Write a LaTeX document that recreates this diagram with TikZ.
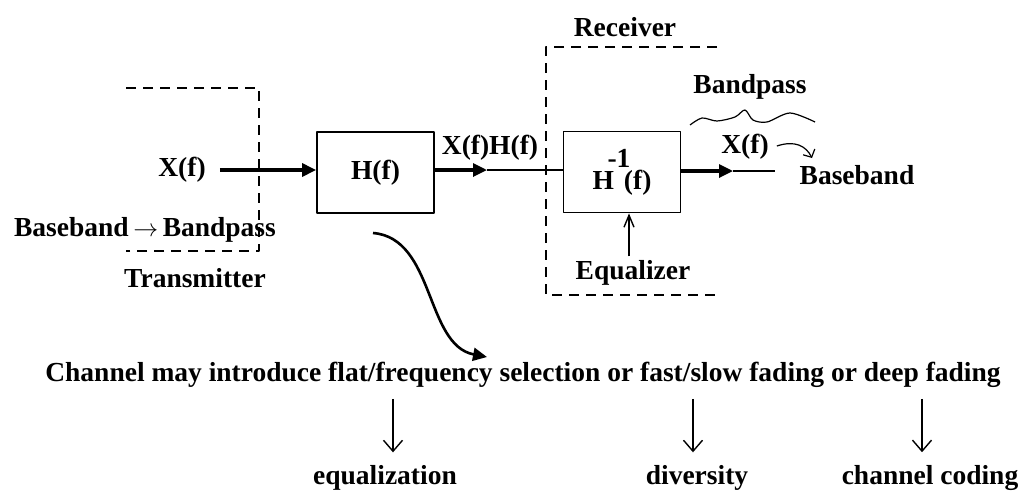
\documentclass[tikz,border=0pt]{standalone}
\usepackage{fontspec}
\setmainfont{Liberation Serif}
\usetikzlibrary{arrows.meta,calc,positioning}

\begin{document}
\begin{tikzpicture}[x=1pt,y=-1pt,line join=round,
 every node/.style={font=\fontsize{27.5}{31}\selectfont\bfseries,inner sep=0pt},
 block/.style={draw,line width=1.8pt,minimum width=117pt,minimum height=81pt},
 frame/.style={line width=1.8pt,dash pattern=on 10pt off 7pt},
 bold arrow/.style={line width=3.2pt,-{Triangle[length=14pt,width=13pt]}},
 plain line/.style={line width=1.6pt},
 down arrow/.style={line width=1.4pt,-{Straight Barb[length=11pt,width=19pt]}},
 eq arrow/.style={line width=1.4pt,-{Straight Barb[length=12pt,width=10pt]}},
 hook arrow/.style={line width=1.2pt,-{Straight Barb[length=6pt,width=13pt]}}]
 \useasboundingbox (0,0) rectangle (1035,491);
 \draw[frame] (126,88) -- (259,88) -- (259,251) -- (126,251);
 \draw[frame] (717,47) -- (546,47) -- (546,295) -- (717,295);
 \node (xin) at (182,170) {X(f)};
 \node[block] (hf) at (375.5,172.5) {H(f)};
 \node[block] (hinv) at (622,172)
  {H\makebox[10pt]{\raisebox{22pt}{-1}}(f)};
 \node (xh) at (490,148) {X(f)H(f)};
 \node (rxl) at (625,27) {Receiver};
 \node (eq) at (633,273) {Equalizer};
 \node (bbp) at (145,230) {Baseband\,$\rightarrow$\,Bandpass};
 \node (txl) at (195,278) {Transmitter};
 \node (bp) at (750,87) {Bandpass};
 \node (xout) at (745,147) {X(f)};
 \node (bb) at (857,175) {Baseband};
 \draw[bold arrow,shorten <=14pt] (xin.east) -- (xin.east -| hf.west);
 \coordinate (m1) at (487,170);
 \draw[bold arrow] (hf.east |- m1) -- (m1);
 \draw[plain line] (m1) -- (m1 -| hinv.west);
 \coordinate (m2) at (733,171);
 \coordinate (oend) at (775,171);
 \draw[bold arrow] (hinv.east |- m2) -- (m2);
 \draw[plain line] (m2) -- (oend);
 \draw[eq arrow] ($(eq.north)+(-4,-4)$) coordinate (eqt)
  -- (eqt |- hinv.south);
 \draw[line width=1.2pt] plot[smooth] coordinates
  {(690,125) (702,118) (717,121) (735,117) (745,110) (753,120) (767,122) (790,113) (815,122)};
 \draw[hook arrow] ($(xout.east)+(8,-1)$) .. controls (795,140) and (806,146) .. (812,158);
 \node (chan) at (523,375)
  {Channel may introduce flat/frequency selection or fast/slow fading or deep fading};
 \coordinate (cs) at (373,233);
 \coordinate (ce) at (487,357);
 \draw[bold arrow,line width=2.6pt] (cs) .. controls (435,238) and (425,345) .. (ce);
 \node (eqz) at (385,478) {equalization};
 \node (div) at (697,478) {diversity};
 \node (cc) at (930,478) {channel coding};
 \foreach \tgt/\dx in {eqz/8,div/-4,cc/-8}
  \draw[down arrow] ($(chan.south -| \tgt.north)+(\dx,11)$)
   -- ($(\tgt.north)+(\dx,-13)$);
\end{tikzpicture}
\end{document}
